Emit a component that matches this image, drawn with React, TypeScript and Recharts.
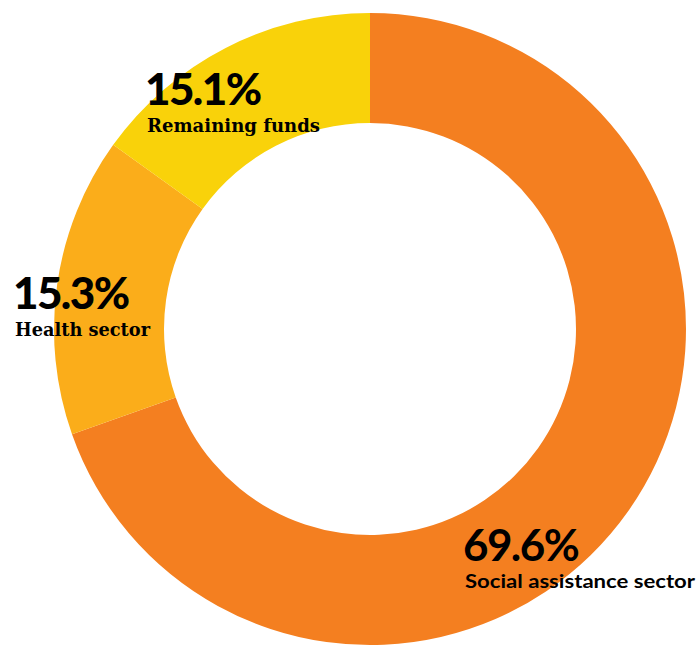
import React from 'react';
import { PieChart, Pie, Cell } from 'recharts';

const sectors = ['Social assistance sector', 'Health sector', 'Remaining funds'];
const shares = [69.6, 15.3, 15.1];
const colors = ['#F47F20', '#FBAD1A', '#F9D20A'];

const data = sectors.map((name, i) => ({ name, value: shares[i] }));

// label anchor offsets from the pie centre, per slice
const labelOffsets = [
  { dx: 95, dy: 232, pctWeight: 700, nameFont: 'Lato', nameWidth: 230 },
  { dx: -355, dy: -20, pctWeight: 900, nameFont: 'DejaVu Serif', nameWidth: 135 },
  { dx: -223, dy: -224, pctWeight: 900, nameFont: 'DejaVu Serif', nameWidth: 173 },
];

function renderLabel(props: any) {
  const { cx, cy, index } = props;
  const o = labelOffsets[index];
  const x = cx + o.dx;
  const y = cy + o.dy;
  return (
    <g key={`lbl-${index}`}>
      <text
        x={x - 2}
        y={y}
        fill="#000"
        fontFamily="Lato, sans-serif"
        fontWeight={o.pctWeight}
        fontSize={44}
        letterSpacing={-1.6}
      >
        {shares[index].toFixed(1)}%
      </text>
      <text
        x={x}
        y={y + 27}
        fill="#000"
        fontFamily={o.nameFont}
        fontWeight={700}
        fontSize={19}
        textLength={o.nameWidth}
        lengthAdjust="spacingAndGlyphs"
      >
        {sectors[index]}
      </text>
    </g>
  );
}

export default function App() {
  return (
    <div style={{ position: 'absolute', left: 0, top: 0, width: 700, height: 646, background: '#fff' }}>
      <PieChart width={700} height={646} margin={{ top: 0, right: 0, bottom: 0, left: 0 }}>
        <Pie
          data={data}
          dataKey="value"
          nameKey="name"
          cx={370}
          cy={329}
          innerRadius={206}
          outerRadius={316}
          startAngle={90}
          endAngle={-270}
          stroke="none"
          label={renderLabel}
          labelLine={false}
          isAnimationActive={false}
        >
          {data.map((d, i) => (
            <Cell key={d.name} fill={colors[i]} />
          ))}
        </Pie>
      </PieChart>
    </div>
  );
}
